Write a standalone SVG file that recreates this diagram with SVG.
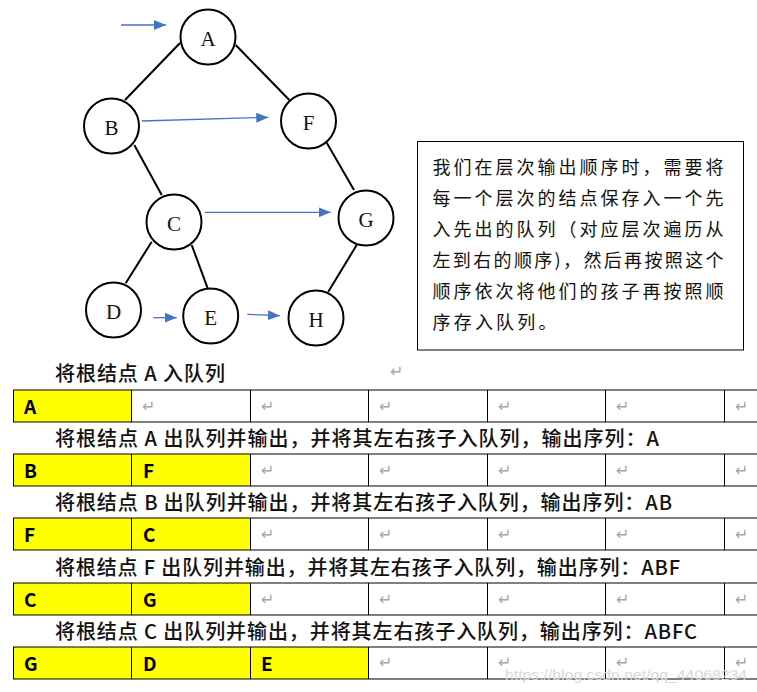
<svg xmlns="http://www.w3.org/2000/svg" width="757" height="692" viewBox="0 0 757 692">
<style>
.node circle{fill:#fff;stroke:#000;stroke-width:2}
.node text{font-family:"Liberation Serif",serif;font-size:21px;text-anchor:middle;fill:#111}
.edge{stroke:#000;stroke-width:2;fill:none}
.ptr{stroke:#4472C4;stroke-width:1.3;fill:none;marker-end:url(#ah)}
.note{font-family:"Noto Sans CJK SC",sans-serif;font-size:18px;fill:#111}
.title{font-family:"Noto Sans CJK SC",sans-serif;font-size:20px;font-weight:500;fill:#111}
.cell{font-family:"Noto Sans CJK SC",sans-serif;font-size:19px;font-weight:bold;fill:#000}
.ret{font-family:"DejaVu Sans",sans-serif;font-size:16px;fill:#a6a6a6}
.yel{fill:#ffff00}
.grid{stroke:#000;stroke-width:1;fill:none}
</style>
<defs>
<marker id="ah" markerUnits="userSpaceOnUse" markerWidth="12" markerHeight="10" refX="12" refY="5" orient="auto">
<path d="M0,0 L12,5 L0,10 z" fill="#4472C4"/>
</marker>
</defs>
<rect width="757" height="692" fill="#fff"/>

<g id="connectors">
<line class="edge" x1="180" y1="43" x2="125" y2="100"/>
<line class="edge" x1="235.7" y1="45" x2="289.3" y2="100"/>
<line class="edge" x1="134.3" y1="145" x2="161.7" y2="195"/>
<line class="edge" x1="326.7" y1="142.7" x2="354" y2="190"/>
<line class="edge" x1="151.7" y1="241.7" x2="125.7" y2="283.3"/>
<line class="edge" x1="191.7" y1="245" x2="207.7" y2="288.3"/>
<line class="edge" x1="356.7" y1="245" x2="328.3" y2="291.7"/>
<line class="ptr" x1="121" y1="25" x2="166" y2="25"/>
<line class="ptr" x1="141.7" y1="121" x2="268.3" y2="117.3"/>
<line class="ptr" x1="205" y1="212.3" x2="330.7" y2="212.3"/>
<line class="ptr" x1="153.3" y1="317.7" x2="176.7" y2="317.7"/>
<line class="ptr" x1="247.3" y1="314.3" x2="280" y2="315.7"/>
</g>

<g id="node-A" class="node"><circle cx="208" cy="37" r="27.5"/><text x="208" y="45.7">A</text></g>
<g id="node-B" class="node"><circle cx="111.5" cy="126" r="27.5"/><text x="111.5" y="135">B</text></g>
<g id="node-F" class="node"><circle cx="308.5" cy="121" r="27.5"/><text x="308.5" y="130">F</text></g>
<g id="node-C" class="node"><circle cx="174" cy="222" r="27.5"/><text x="174" y="231">C</text></g>
<g id="node-G" class="node"><circle cx="366" cy="218" r="27.5"/><text x="366" y="227">G</text></g>
<g id="node-D" class="node"><circle cx="113.5" cy="310" r="27.5"/><text x="113.5" y="319">D</text></g>
<g id="node-E" class="node"><circle cx="210.7" cy="316" r="27.5"/><text x="210.7" y="325">E</text></g>
<g id="node-H" class="node"><circle cx="316" cy="318" r="27.5"/><text x="316" y="327">H</text></g>

<g id="note">
<rect x="417.5" y="141.5" width="326" height="208.5" fill="#fff" stroke="#000" stroke-width="1"/>
<text class="note" x="432.5" y="174" textLength="291" lengthAdjust="spacing">我们在层次输出顺序时，需要将</text>
<text class="note" x="432.5" y="205" textLength="291" lengthAdjust="spacing">每一个层次的结点保存入一个先</text>
<text class="note" x="432.5" y="236" textLength="291" lengthAdjust="spacing">入先出的队列（对应层次遍历从</text>
<text class="note" x="432.5" y="267" textLength="291" lengthAdjust="spacing">左到右的顺序)，然后再按照这个</text>
<text class="note" x="432.5" y="298" textLength="291" lengthAdjust="spacing">顺序依次将他们的孩子再按照顺</text>
<text class="note" x="432.5" y="329" textLength="124" lengthAdjust="spacing">序存入队列。</text>
</g>

<g id="table">
<g id="titles">
<text class="title" x="55" y="381" textLength="170" lengthAdjust="spacing">将根结点 A 入队列</text>
<text class="ret" x="390" y="377">↵</text>
<text class="title" x="55" y="446" textLength="604" lengthAdjust="spacing">将根结点 A 出队列并输出，并将其左右孩子入队列，输出序列：A</text>
<text class="title" x="55" y="510" textLength="617" lengthAdjust="spacing">将根结点 B 出队列并输出，并将其左右孩子入队列，输出序列：AB</text>
<text class="title" x="55" y="575" textLength="625" lengthAdjust="spacing">将根结点 F 出队列并输出，并将其左右孩子入队列，输出序列：ABF</text>
<text class="title" x="55" y="639" textLength="642" lengthAdjust="spacing">将根结点 C 出队列并输出，并将其左右孩子入队列，输出序列：ABFC</text>
</g>
<g id="fills">
<rect class="yel" x="13" y="390" width="118.5" height="32"/>
<rect class="yel" x="13" y="454" width="237" height="32"/>
<rect class="yel" x="13" y="518" width="237" height="32"/>
<rect class="yel" x="13" y="583" width="237" height="32"/>
<rect class="yel" x="13" y="647" width="355.5" height="32"/>
</g>
<g id="grid" class="grid">
<path d="M13,390H757M13,422H757M13,454H757M13,486H757M13,518H757M13,550H757M13,583H757M13,615H757M13,647H757M13,679H757"/>
<path d="M13.5,390V422M131.5,390V422M250.5,390V422M368.5,390V422M487.5,390V422M605.5,390V422M724.5,390V422"/>
<path d="M13.5,454V486M131.5,454V486M250.5,454V486M368.5,454V486M487.5,454V486M605.5,454V486M724.5,454V486"/>
<path d="M13.5,518V550M131.5,518V550M250.5,518V550M368.5,518V550M487.5,518V550M605.5,518V550M724.5,518V550"/>
<path d="M13.5,583V615M131.5,583V615M250.5,583V615M368.5,583V615M487.5,583V615M605.5,583V615M724.5,583V615"/>
<path d="M13.5,647V679M131.5,647V679M250.5,647V679M368.5,647V679M487.5,647V679M605.5,647V679M724.5,647V679"/>
</g>
<g id="cells">
<text class="cell" x="24" y="413.5">A</text>
<text class="cell" x="24" y="478">B</text>
<text class="cell" x="143" y="478">F</text>
<text class="cell" x="24" y="542">F</text>
<text class="cell" x="143" y="542">C</text>
<text class="cell" x="24" y="607">C</text>
<text class="cell" x="143" y="607">G</text>
<text class="cell" x="24" y="671">G</text>
<text class="cell" x="143" y="671">D</text>
<text class="cell" x="261" y="671">E</text>
</g>
<g id="returns">
<text class="ret" x="142" y="412">↵</text><text class="ret" x="261" y="412">↵</text><text class="ret" x="379" y="412">↵</text><text class="ret" x="498" y="412">↵</text><text class="ret" x="616" y="412">↵</text><text class="ret" x="735" y="412">↵</text>
<text class="ret" x="261" y="476">↵</text><text class="ret" x="379" y="476">↵</text><text class="ret" x="498" y="476">↵</text><text class="ret" x="616" y="476">↵</text><text class="ret" x="735" y="476">↵</text>
<text class="ret" x="261" y="540">↵</text><text class="ret" x="379" y="540">↵</text><text class="ret" x="498" y="540">↵</text><text class="ret" x="616" y="540">↵</text><text class="ret" x="735" y="540">↵</text>
<text class="ret" x="261" y="605">↵</text><text class="ret" x="379" y="605">↵</text><text class="ret" x="498" y="605">↵</text><text class="ret" x="616" y="605">↵</text><text class="ret" x="735" y="605">↵</text>
<text class="ret" x="379" y="668">↵</text><text class="ret" x="498" y="668">↵</text><text class="ret" x="616" y="668">↵</text><text class="ret" x="735" y="668">↵</text>
</g>
</g>
<text x="505" y="680" font-family="Liberation Sans, sans-serif" font-size="15" fill="#d9d9d9" textLength="242" lengthAdjust="spacingAndGlyphs">https://blog.csdn.net/qq_44068234</text>
</svg>
